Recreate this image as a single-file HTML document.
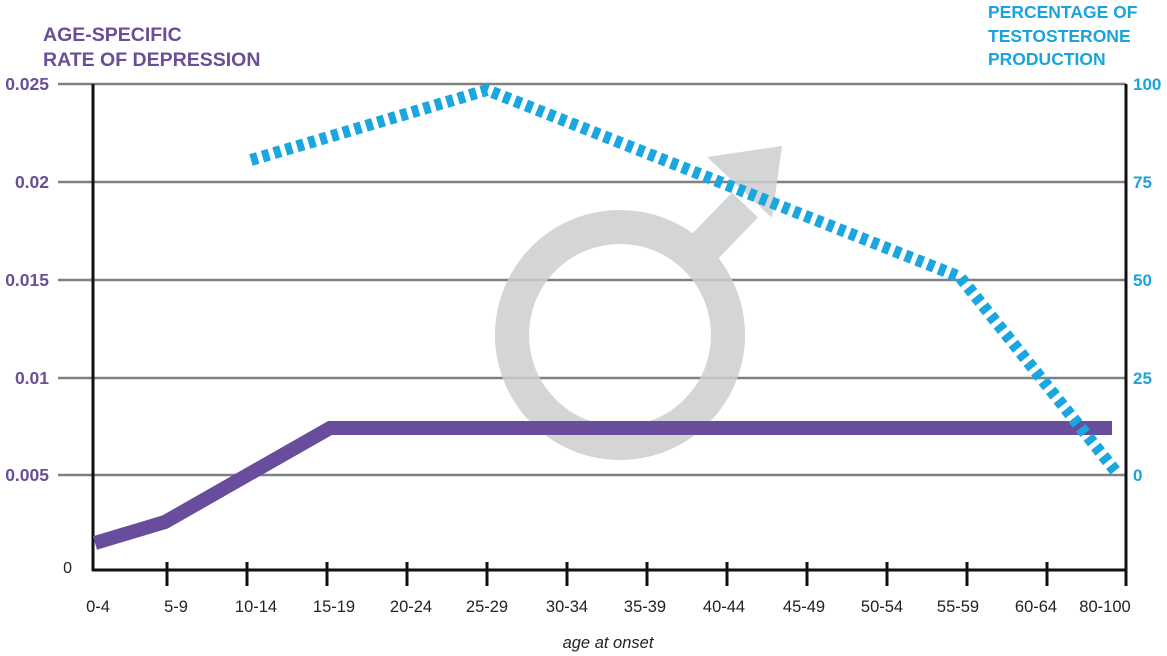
<!DOCTYPE html>
<html><head><meta charset="utf-8"><style>
html,body{margin:0;padding:0;background:#fff;}
svg{display:block;font-family:"Liberation Sans",Arial,sans-serif;}
</style></head><body>
<svg width="1167" height="656" viewBox="0 0 1167 656" xmlns="http://www.w3.org/2000/svg">
<g fill="#6a4f98" font-weight="bold" font-size="19.5">
<text x="43" y="41">AGE-SPECIFIC</text>
<text x="43" y="66">RATE OF DEPRESSION</text>
</g>
<g fill="#1aa3dc" font-weight="bold" font-size="17.5">
<text x="988" y="18">PERCENTAGE OF</text>
<text x="988" y="42">TESTOSTERONE</text>
<text x="988" y="65">PRODUCTION</text>
</g>
<g stroke="#808080" stroke-width="2.5">
<line x1="58" y1="84" x2="1126" y2="84"/>
<line x1="58" y1="182" x2="1126" y2="182"/>
<line x1="58" y1="280" x2="1126" y2="280"/>
<line x1="58" y1="378" x2="1126" y2="378"/>
<line x1="58" y1="475" x2="1126" y2="475"/>
</g>
<g fill="#6a4f98" font-weight="bold" font-size="17.5" text-anchor="end">
<text x="49" y="90">0.025</text>
<text x="49" y="188">0.02</text>
<text x="49" y="286">0.015</text>
<text x="49" y="384">0.01</text>
<text x="49" y="481">0.005</text>
</g>
<text x="72" y="573" fill="#222" font-size="16" text-anchor="end">0</text>
<g fill="#1aa3dc" font-weight="bold" font-size="17">
<text x="1133" y="90">100</text>
<text x="1133" y="188">75</text>
<text x="1133" y="286">50</text>
<text x="1133" y="384">25</text>
<text x="1133" y="481">0</text>
</g>
<g opacity="0.85" fill="#cdced0">
<circle cx="620" cy="335" r="108" fill="none" stroke="#cdced0" stroke-width="34"/>
<line x1="690" y1="262" x2="745" y2="205" stroke="#cdced0" stroke-width="36"/>
<polygon points="782,146 707,157 772,218"/>
</g>
<g stroke="#111" stroke-width="3" fill="none">
<line x1="93" y1="84" x2="93" y2="571"/>
<line x1="1126" y1="84" x2="1126" y2="586"/>
<line x1="92" y1="570" x2="1127" y2="570"/>
</g>
<g stroke="#111" stroke-width="3">
<line x1="167" y1="562" x2="167" y2="586"/><line x1="247" y1="562" x2="247" y2="586"/>
<line x1="327" y1="562" x2="327" y2="586"/><line x1="407" y1="562" x2="407" y2="586"/>
<line x1="487" y1="562" x2="487" y2="586"/><line x1="567" y1="562" x2="567" y2="586"/>
<line x1="647" y1="562" x2="647" y2="586"/><line x1="727" y1="562" x2="727" y2="586"/>
<line x1="807" y1="562" x2="807" y2="586"/><line x1="887" y1="562" x2="887" y2="586"/>
<line x1="967" y1="562" x2="967" y2="586"/><line x1="1047" y1="562" x2="1047" y2="586"/>
</g>
<g fill="#222" font-size="16.5" text-anchor="middle">
<text x="98" y="612">0-4</text><text x="176" y="612">5-9</text><text x="256" y="612">10-14</text>
<text x="334" y="612">15-19</text><text x="411" y="612">20-24</text><text x="487" y="612">25-29</text>
<text x="567" y="612">30-34</text><text x="645" y="612">35-39</text><text x="724" y="612">40-44</text>
<text x="804" y="612">45-49</text><text x="882" y="612">50-54</text><text x="958" y="612">55-59</text>
<text x="1036" y="612">60-64</text><text x="1105" y="612">80-100</text>
</g>
<text x="608" y="648" fill="#222" font-size="16.5" font-style="italic" text-anchor="middle">age at onset</text>
<polyline points="95,543 165,522 330,428 1112,428" fill="none" stroke="#6a4c9c" stroke-width="14"/>
<polyline points="251,160 487,90 960,277 1117,473" fill="none" stroke="#1aa6df" stroke-width="12" stroke-dasharray="7,5"/>
</svg>
</body></html>
